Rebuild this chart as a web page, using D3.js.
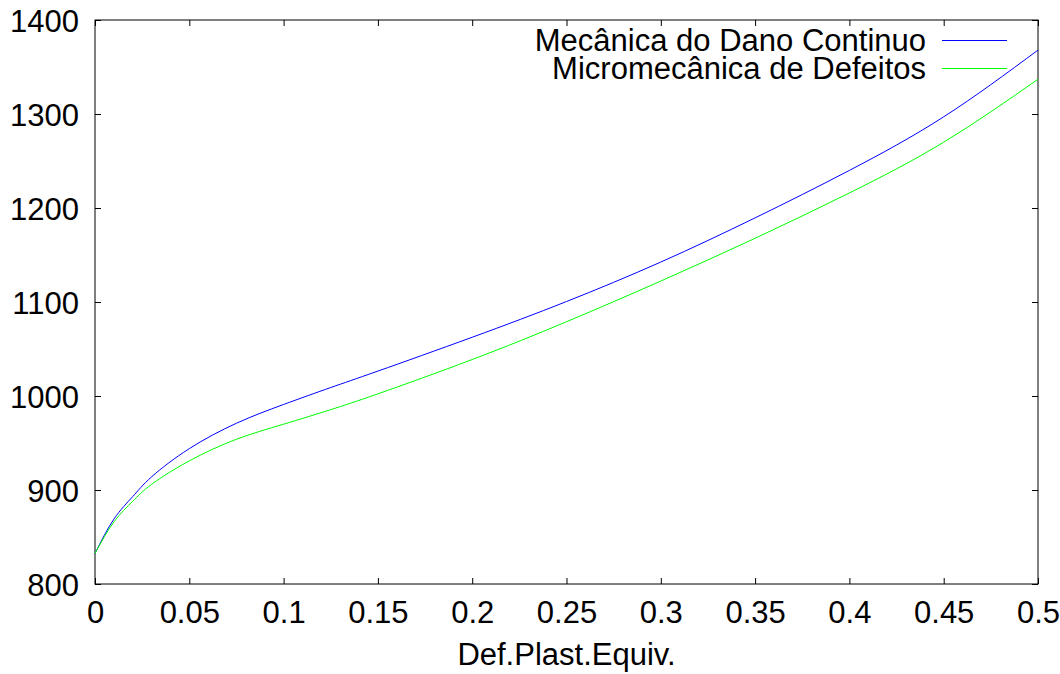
<!DOCTYPE html>
<html>
<head>
<meta charset="utf-8">
<script src="https://cdn.jsdelivr.net/npm/d3@7"></script>
<style>
    body { margin: 0; background: #fff; }
    text { font-family: "Liberation Sans", Arial, sans-serif; fill: #000; }
    .axis path { display: none; }
    .axis line { stroke: #000; }
    .curve { fill: none; stroke-width: 1; }
</style>
</head>
<body>
<script>
//strain values (x)
var strain = [0, 0.01, 0.02, 0.03, 0.05, 0.075, 0.1, 0.125, 0.15, 0.2, 0.25, 0.3, 0.35, 0.4, 0.45, 0.5];

//Mecânica do Dano Continuo
var danoContinuo = [832.5, 869, 893, 914, 944, 971, 991, 1009, 1026.5, 1062.5, 1100.5, 1142.5, 1189.5, 1240, 1297, 1368];

//Micromecânica de Defeitos
var microDefeitos = [832.5, 866, 888, 906, 931, 954, 970, 985.5, 1002.3, 1038.8, 1079, 1122.3, 1167.8, 1216, 1270, 1337];

var xTicks = [0, 0.05, 0.1, 0.15, 0.2, 0.25, 0.3, 0.35, 0.4, 0.45, 0.5];
var yTicks = [800, 900, 1000, 1100, 1200, 1300, 1400];
var seriesNames = ["Mecânica do Dano Continuo", "Micromecânica de Defeitos"];
var xLabel = "Def.Plast.Equiv.";

function init() {
    const margin = { top: 20, right: 22, bottom: 90, left: 95 };
    const width = 1060 - margin.left - margin.right;
    const height = 674 - margin.top - margin.bottom;
    const fontSize = "31px";

    var svg = d3.select("body").append("svg")
        .attr("width", 1060)
        .attr("height", 674)
        .append("g")
        .attr("transform", "translate(" + margin.left + "," + margin.top + ")");

    var xScale = d3.scaleLinear().domain([0, 0.5]).range([0, width]);
    var yScale = d3.scaleLinear().domain([800, 1400]).range([height, 0]);

    //bottom axis with labels, ticks pointing inward
    svg.append("g")
        .attr("class", "axis")
        .attr("transform", "translate(0," + height + ")")
        .call(d3.axisBottom(xScale).tickValues(xTicks).tickSizeInner(-6).tickSizeOuter(0)
            .tickPadding(0).tickFormat(function (d) { return String(d); }))
        .selectAll("text")
        .attr("y", 39).attr("dy", 0)
        .style("font-size", fontSize);

    //left axis
    svg.append("g")
        .attr("class", "axis")
        .call(d3.axisLeft(yScale).tickValues(yTicks).tickSizeInner(-6).tickSizeOuter(0)
            .tickPadding(0).tickFormat(d3.format("d")))
        .selectAll("text")
        .attr("x", -16).attr("dy", "0.36em")
        .style("font-size", fontSize);

    //mirror ticks top and right
    svg.append("g")
        .attr("class", "axis")
        .call(d3.axisTop(xScale).tickValues(xTicks).tickSizeInner(-6).tickSizeOuter(0).tickFormat(""));

    svg.append("g")
        .attr("class", "axis")
        .attr("transform", "translate(" + width + ",0)")
        .call(d3.axisRight(yScale).tickValues(yTicks).tickSizeInner(-6).tickSizeOuter(0).tickFormat(""));

    //frame
    svg.append("rect")
        .attr("width", width)
        .attr("height", height)
        .attr("fill", "none")
        .attr("stroke", "#000")
        .attr("stroke-width", 1);

    //x axis title
    svg.append("text")
        .attr("x", width / 2)
        .attr("y", height + 81)
        .attr("text-anchor", "middle")
        .style("font-size", fontSize)
        .text(xLabel);

    var line = d3.line()
        .x(function (d) { return xScale(d[0]); })
        .y(function (d) { return yScale(d[1]); })
        .curve(d3.curveNatural);

    var series = [
        { name: seriesNames[0], values: danoContinuo, color: "#0000ff" },
        { name: seriesNames[1], values: microDefeitos, color: "#00ff00" }
    ];

    series.forEach(function (s, i) {
        svg.append("path")
            .datum(strain.map(function (x, j) { return [x, s.values[j]]; }))
            .attr("class", "curve")
            .attr("d", line)
            .style("stroke", s.color);

        //legend entry
        var ly = 20 + i * 28;
        svg.append("text")
            .attr("x", 831)
            .attr("y", ly)
            .attr("dy", "0.36em")
            .attr("text-anchor", "end")
            .style("font-size", fontSize)
            .text(s.name);

        svg.append("line")
            .attr("x1", 847).attr("x2", 912)
            .attr("y1", ly + 0.5).attr("y2", ly + 0.5)
            .style("stroke", s.color);
    });
}

window.onload = init;
</script>
</body>
</html>
